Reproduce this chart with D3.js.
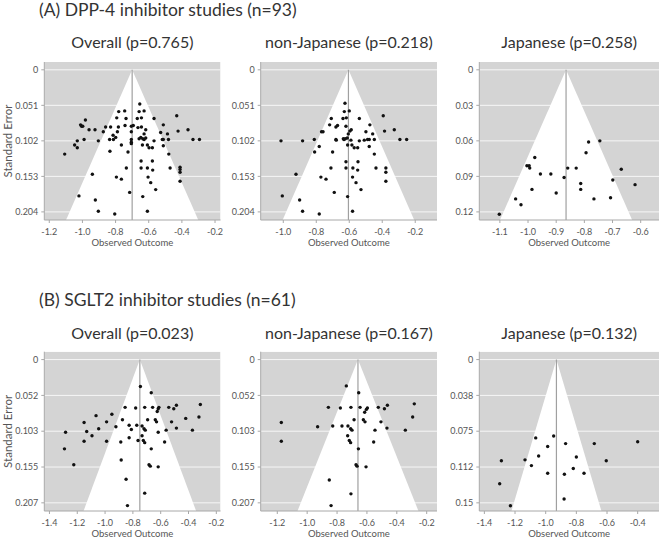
<!DOCTYPE html>
<html>
<head>
<meta charset="utf-8">
<script src="https://cdn.jsdelivr.net/npm/d3@7"></script>
<style>
body { margin: 0; background: #fff; }
svg { display: block; }
text { font-family: Lato, "Open Sans", sans-serif; }
</style>
</head>
<body>
<svg id="chart" width="662" height="549"></svg>
<script>
// ---- data: [observed outcome, standard error] ----
var sectionTitles = ["(A) DPP-4 inhibitor studies (n=93)", "(B) SGLT2 inhibitor studies (n=61)"];
var panelNames = ["Overall", "non-Japanese", "Japanese"];
var pValuesA = ["0.765", "0.218", "0.258"];
var pValuesB = ["0.023", "0.167", "0.132"];
var pooledA = [-0.70, -0.605, -0.865];
var pooledB = [-0.75, -0.66, -0.93];

var seLabelsA = [["0","0.051","0.102","0.153","0.204"], ["0","0.051","0.102","0.153","0.204"], ["0","0.03","0.06","0.09","0.12"]];
var seLabelsB = [["0","0.052","0.103","0.155","0.207"], ["0","0.052","0.103","0.155","0.207"], ["0","0.038","0.075","0.112","0.15"]];
var seMaxA = [0.204, 0.204, 0.12];
var seMaxB = [0.207, 0.207, 0.15];

var xTicksA = [[-1.2,-1.0,-0.8,-0.6,-0.4,-0.2], [-1.0,-0.8,-0.6,-0.4,-0.2], [-1.1,-1.0,-0.9,-0.8,-0.7,-0.6]];
var xTicksB = [[-1.4,-1.2,-1.0,-0.8,-0.6,-0.4,-0.2], [-1.2,-1.0,-0.8,-0.6,-0.4,-0.2], [-1.4,-1.2,-1.0,-0.8,-0.6,-0.4]];

var dppOverall = [
  [-0.654,0.049],[-0.781,0.060],[-0.745,0.059],[-0.658,0.060],[-0.628,0.059],
  [-0.793,0.069],[-0.737,0.070],[-0.669,0.070],[-0.644,0.069],[-0.568,0.070],[-0.431,0.066],
  [-0.982,0.072],[-1.011,0.079],[-1.005,0.081],[-0.998,0.081],
  [-0.960,0.086],[-0.924,0.086],[-0.860,0.082],[-0.830,0.082],[-0.783,0.082],[-0.743,0.080],
  [-0.705,0.081],[-0.693,0.080],[-0.665,0.083],[-0.644,0.082],[-0.618,0.086],[-0.512,0.079],
  [-0.423,0.088],[-0.363,0.086],[-0.874,0.089],[-0.789,0.089],[-0.705,0.089],
  [-0.815,0.094],[-0.799,0.097],[-0.628,0.092],[-0.618,0.098],[-0.528,0.090],[-0.487,0.092],
  [-0.648,0.097],[-0.636,0.099],
  [-1.031,0.102],[-0.990,0.100],[-0.904,0.102],[-0.836,0.100],[-0.813,0.100],[-0.705,0.100],
  [-0.705,0.104],[-0.658,0.099],[-0.628,0.100],[-0.568,0.102],[-0.518,0.100],[-0.512,0.100],
  [-0.481,0.100],[-0.333,0.100],[-0.294,0.100],
  [-1.047,0.108],[-1.031,0.112],[-0.765,0.108],[-0.705,0.106],[-0.638,0.108],[-0.608,0.108],
  [-0.598,0.112],[-0.578,0.112],[-0.512,0.109],
  [-1.107,0.121],[-0.834,0.117],[-0.725,0.118],[-0.479,0.121],
  [-0.646,0.131],[-0.578,0.131],
  [-0.940,0.150],[-0.735,0.141],[-0.646,0.141],[-0.608,0.141],[-0.576,0.144],[-0.471,0.141],
  [-0.411,0.140],[-0.411,0.143],[-0.411,0.147],
  [-0.795,0.154],[-0.765,0.157],[-0.604,0.154],[-0.588,0.162],[-0.411,0.160],[-0.558,0.172],
  [-1.021,0.181],[-0.715,0.176],[-0.636,0.182],[-0.922,0.187],
  [-0.904,0.203],[-0.805,0.207],[-0.608,0.203]
];

var dppNonJapanese = [
  [-0.626,0.048],[-0.630,0.060],[-0.600,0.059],
  [-0.709,0.070],[-0.638,0.070],[-0.618,0.069],[-0.539,0.070],[-0.394,0.066],
  [-0.719,0.079],[-0.681,0.082],[-0.671,0.080],[-0.620,0.081],[-0.588,0.086],[-0.475,0.079],
  [-0.768,0.089],[-0.759,0.089],[-0.606,0.092],[-0.596,0.088],[-0.499,0.089],[-0.458,0.092],
  [-0.386,0.088],[-0.327,0.086],
  [-0.681,0.100],[-0.679,0.101],[-0.636,0.099],[-0.632,0.100],[-0.624,0.099],[-0.612,0.098],
  [-0.590,0.101],[-0.539,0.102],[-0.509,0.101],[-0.489,0.100],[-0.479,0.100],[-0.448,0.100],
  [-0.293,0.100],[-0.252,0.100],
  [-1.014,0.102],[-0.883,0.102],[-0.812,0.100],
  [-0.782,0.110],[-0.810,0.118],[-0.701,0.118],[-0.610,0.108],[-0.584,0.108],[-0.570,0.112],
  [-0.549,0.112],[-0.479,0.110],[-0.448,0.121],
  [-0.620,0.132],[-0.547,0.132],
  [-0.711,0.141],[-0.620,0.141],[-0.578,0.141],[-0.549,0.144],[-0.438,0.141],[-0.378,0.141],
  [-0.378,0.147],[-0.378,0.160],
  [-0.923,0.150],[-0.772,0.154],[-0.741,0.157],[-0.580,0.154],[-0.559,0.162],[-0.529,0.172],
  [-0.691,0.176],[-0.610,0.182],[-1.006,0.181],[-0.901,0.187],
  [-0.883,0.203],[-0.782,0.207],[-0.580,0.203]
];

var dppJapanese = [
  [-0.745,0.060],[-0.785,0.061],[-0.794,0.070],[-0.976,0.074],
  [-1.004,0.081],[-0.996,0.081],[-0.994,0.083],[-0.859,0.083],[-0.829,0.083],[-0.669,0.084],
  [-0.956,0.088],[-0.919,0.088],[-0.872,0.091],[-0.699,0.093],
  [-0.813,0.096],[-0.620,0.097],[-0.986,0.101],[-0.813,0.101],[-0.900,0.104],
  [-1.044,0.109],[-0.766,0.109],[-0.707,0.108],[-1.025,0.114],[-1.102,0.122]
];

var sgltOverall = [
  [-0.746,0.039],[-0.668,0.048],
  [-0.856,0.069],[-0.780,0.070],[-0.715,0.069],[-0.658,0.069],[-0.613,0.069],[-0.618,0.071],
  [-0.625,0.075],[-0.542,0.069],[-0.506,0.071],[-0.487,0.066],[-0.315,0.065],
  [-1.065,0.081],[-0.951,0.079],[-0.875,0.087],[-0.694,0.087],[-0.639,0.087],[-0.630,0.090],
  [-0.522,0.090],[-0.420,0.085],[-0.325,0.083],
  [-1.151,0.091],[-0.989,0.090],[-0.922,0.097],[-0.827,0.095],[-0.772,0.095],[-0.734,0.096],
  [-0.720,0.100],[-0.711,0.102],[-0.811,0.101],[-0.618,0.105],[-0.561,0.102],[-0.487,0.099],
  [-0.372,0.102],
  [-1.284,0.105],[-1.132,0.104],[-1.046,0.100],[-1.094,0.110],[-1.151,0.118],[-0.989,0.118],
  [-0.887,0.119],[-0.827,0.113],[-0.763,0.117],[-0.734,0.110],[-0.725,0.117],[-0.715,0.120],
  [-0.572,0.119],
  [-1.292,0.129],[-0.668,0.129],
  [-1.225,0.152],[-0.884,0.145],[-0.684,0.152],[-0.675,0.154],[-0.618,0.155],
  [-0.849,0.173],[-0.715,0.193],[-0.839,0.211]
];

var sgltNonJapanese = [
  [-0.738,0.038],[-0.655,0.048],
  [-0.858,0.069],[-0.778,0.070],[-0.707,0.069],[-0.646,0.069],[-0.597,0.070],[-0.604,0.072],
  [-0.615,0.076],[-0.524,0.069],[-0.483,0.071],[-0.463,0.066],[-0.283,0.064],
  [-1.173,0.091],[-0.930,0.097],[-0.829,0.096],[-0.767,0.096],[-0.727,0.096],[-0.709,0.100],
  [-0.700,0.102],[-0.686,0.087],[-0.624,0.087],[-0.613,0.090],[-0.546,0.102],[-0.506,0.090],
  [-0.466,0.099],[-0.343,0.102],[-0.294,0.083],
  [-1.173,0.118],[-0.729,0.110],[-0.718,0.117],[-0.709,0.120],[-0.555,0.119],
  [-0.657,0.129],
  [-0.673,0.152],[-0.666,0.154],[-0.606,0.155],
  [-0.852,0.174],[-0.707,0.194],[-0.840,0.211]
];

var sgltJapanese = [
  [-0.948,0.080],[-1.065,0.082],[-0.870,0.088],[-0.683,0.088],[-0.400,0.086],[-0.987,0.091],
  [-0.800,0.102],[-1.046,0.101],[-1.289,0.106],[-1.135,0.105],[-0.605,0.106],
  [-1.093,0.111],[-0.820,0.114],[-0.987,0.119],[-0.878,0.120],[-0.750,0.119],
  [-1.300,0.130],[-0.880,0.146],[-1.230,0.153]
];

// ---- layout ----
var cols = [{x0: 44.3, x1: 220.5}, {x0: 260.7, x1: 437}, {x0: 479.3, x1: 659}];
var rows = [{y0: 62, y1: 220, titleY: 16, subY: 48}, {y0: 351.7, y1: 511, titleY: 306, subY: 339}];
var xDomainsA = [[-1.23, -0.167], [-1.137, -0.068], [-1.173, -0.535]];
var xDomainsB = [[-1.437, -0.17], [-1.311, -0.131], [-1.433, -0.261]];
var funnelZ = 1.85;

var svg = d3.select("#chart");

var groups = [
  {title: sectionTitles[0], p: pValuesA, pooled: pooledA, seLabels: seLabelsA, seMax: seMaxA,
   xTicks: xTicksA, xDomains: xDomainsA, data: [dppOverall, dppNonJapanese, dppJapanese]},
  {title: sectionTitles[1], p: pValuesB, pooled: pooledB, seLabels: seLabelsB, seMax: seMaxB,
   xTicks: xTicksB, xDomains: xDomainsB, data: [sgltOverall, sgltNonJapanese, sgltJapanese]}
];

groups.forEach(function(g, r) {
  var row = rows[r];

  svg.append("text")
     .attr("x", 39).attr("y", row.titleY)
     .attr("font-size", 17.5).attr("fill", "#333")
     .text(g.title);

  for (var c = 0; c < 3; c++) {
    var col = cols[c];
    var seMax = g.seMax[c];
    var est = g.pooled[c];

    var x = d3.scaleLinear().domain(g.xDomains[c]).range([col.x0, col.x1]);
    var y = d3.scaleLinear().domain([-0.055 * seMax, 1.057 * seMax]).range([row.y0, row.y1]);
    var seBottom = y.domain()[1];
    var seTicks = g.seLabels[c].map(function(d, i) { return seMax * i / 4; });

    var p = svg.append("g");
    var clipId = "clip" + r + c;
    p.append("clipPath").attr("id", clipId)
     .append("rect")
     .attr("x", col.x0).attr("y", row.y0)
     .attr("width", col.x1 - col.x0).attr("height", row.y1 - row.y0);

    // panel title
    p.append("text")
     .attr("x", (col.x0 + col.x1) / 2).attr("y", row.subY)
     .attr("text-anchor", "middle").attr("font-size", 16).attr("fill", "#333")
     .text(panelNames[c] + " (p=" + g.p[c] + ")");

    var inner = p.append("g").attr("clip-path", "url(#" + clipId + ")");

    // background
    inner.append("rect")
     .attr("x", col.x0).attr("y", row.y0)
     .attr("width", col.x1 - col.x0).attr("height", row.y1 - row.y0)
     .attr("fill", "#d4d4d4");

    // funnel
    var funnel = [[est, 0], [est - funnelZ * seBottom, seBottom], [est + funnelZ * seBottom, seBottom]];
    inner.append("polygon")
     .attr("points", funnel.map(function(d) { return x(d[0]) + "," + y(d[1]); }).join(" "))
     .attr("fill", "#fff");

    // horizontal lines at the ticks
    inner.selectAll("line.h").data(seTicks).enter()
     .append("line")
     .attr("x1", col.x0).attr("x2", col.x1)
     .attr("y1", function(d) { return y(d); })
     .attr("y2", function(d) { return y(d); })
     .attr("stroke", "#fff").attr("stroke-opacity", 0.8).attr("stroke-width", 1);

    // reference line at the pooled estimate
    inner.append("line")
     .attr("x1", x(est)).attr("x2", x(est))
     .attr("y1", y(0)).attr("y2", row.y1)
     .attr("stroke", "#a0a0a0").attr("stroke-width", 1.2);

    // studies
    inner.selectAll("circle").data(g.data[c]).enter()
     .append("circle")
     .attr("cx", function(d) { return x(d[0]); })
     .attr("cy", function(d) { return y(d[1]); })
     .attr("r", 1.7)
     .attr("fill", "#111");

    // axes
    p.append("line")
     .attr("x1", col.x0).attr("x2", col.x0).attr("y1", row.y0).attr("y2", row.y1)
     .attr("stroke", "#a8a8a8");
    p.append("line")
     .attr("x1", col.x0).attr("x2", col.x1).attr("y1", row.y1).attr("y2", row.y1)
     .attr("stroke", "#a8a8a8");

    p.selectAll("line.yt").data(seTicks).enter()
     .append("line")
     .attr("x1", col.x0 - 3).attr("x2", col.x0)
     .attr("y1", function(d) { return y(d); }).attr("y2", function(d) { return y(d); })
     .attr("stroke", "#a8a8a8");
    var labels = g.seLabels[c];
    p.selectAll("text.yl").data(seTicks).enter()
     .append("text")
     .attr("x", col.x0 - 6)
     .attr("y", function(d) { return y(d) + 3.2; })
     .attr("text-anchor", "end").attr("font-size", 9).attr("fill", "#555")
     .text(function(d, i) { return labels[i]; });

    p.selectAll("line.xt").data(g.xTicks[c]).enter()
     .append("line")
     .attr("x1", function(d) { return x(d); }).attr("x2", function(d) { return x(d); })
     .attr("y1", row.y1).attr("y2", row.y1 + 3)
     .attr("stroke", "#a8a8a8");
    p.selectAll("text.xl").data(g.xTicks[c]).enter()
     .append("text")
     .attr("x", function(d) { return x(d); })
     .attr("y", row.y1 + 14.5)
     .attr("text-anchor", "middle").attr("font-size", 9).attr("fill", "#555")
     .text(function(d) { return d.toFixed(1); });

    p.append("text")
     .attr("x", (col.x0 + col.x1) / 2).attr("y", row.y1 + 25.5)
     .attr("text-anchor", "middle").attr("font-size", 9.5).attr("fill", "#555")
     .text("Observed Outcome");

    if (c == 0) {
      p.append("text")
       .attr("transform", "translate(12," + ((row.y0 + row.y1) / 2) + ") rotate(-90)")
       .attr("text-anchor", "middle").attr("font-size", 11.5).attr("fill", "#555")
       .text("Standard Error");
    }
  }
});
</script>
</body>
</html>
